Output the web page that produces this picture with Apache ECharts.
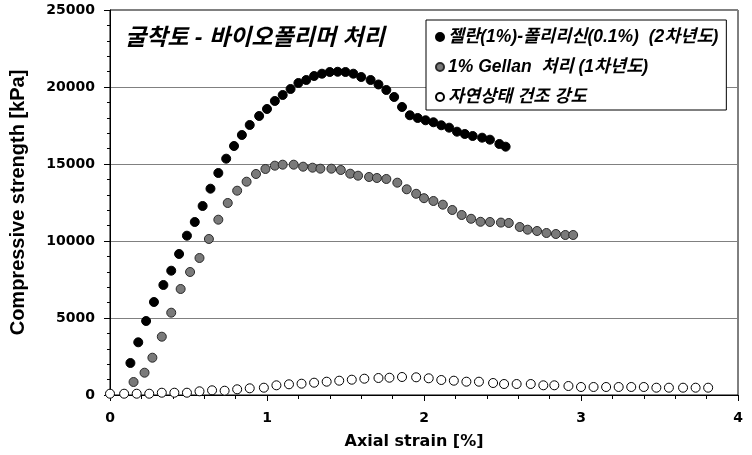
<!DOCTYPE html>
<html>
<head>
<meta charset="utf-8">
<script src="https://cdn.jsdelivr.net/npm/echarts@6/dist/echarts.min.js"></script>
<style>
html,body{margin:0;padding:0;background:#fff;}
#chart{width:752px;height:455px;}
</style>
</head>
<body>
<div id="chart"></div>
<script>
// ---- Data ----
var chartTitle = '굴착토 - 바이오폴리머 처리';
var seriesNames = ['젤란(1%)-폴리리신(0.1%)  (2차년도)', '1% Gellan  처리 (1차년도)', '자연상태 건조 강도'];
var xTicks = [0, 1, 2, 3, 4];
var yTicks = [0, 5000, 10000, 15000, 20000, 25000];

var blackX = [0.13,0.18,0.23,0.28,0.34,0.39,0.44,0.49,0.54,0.59,0.64,0.69,0.74,0.79,0.84,0.89,0.95,1.00,1.05,1.10,1.15,1.20,1.25,1.30,1.35,1.40,1.45,1.50,1.55,1.60,1.66,1.71,1.76,1.81,1.86,1.91,1.96,2.01,2.06,2.11,2.16,2.21,2.26,2.31,2.37,2.42,2.48,2.52];
var blackY = [2078,3422,4805,6039,7143,8072,9157,10345,11234,12273,13397,14416,15345,16169,16884,17534,18118,18573,19092,19481,19871,20260,20455,20714,20864,20974,20990,20974,20864,20649,20455,20164,19806,19352,18703,18164,17989,17839,17710,17515,17359,17099,16949,16819,16709,16579,16300,16125];

var grayX = [0.15,0.22,0.27,0.33,0.39,0.45,0.51,0.57,0.63,0.69,0.75,0.81,0.87,0.93,0.99,1.05,1.10,1.17,1.23,1.29,1.34,1.41,1.47,1.53,1.58,1.65,1.70,1.76,1.83,1.89,1.95,2.00,2.06,2.12,2.18,2.24,2.30,2.36,2.42,2.49,2.54,2.61,2.66,2.72,2.78,2.84,2.90,2.95];
var grayY = [844,1448,2422,3786,5345,6884,7988,8897,10131,11384,12468,13267,13851,14352,14677,14891,14956,14956,14826,14761,14696,14696,14611,14371,14241,14157,14092,14027,13787,13358,13066,12780,12598,12358,12014,11689,11443,11248,11235,11196,11170,10910,10735,10650,10520,10455,10390,10390];

var openX = [0.00,0.09,0.17,0.25,0.33,0.41,0.49,0.57,0.65,0.73,0.81,0.89,0.98,1.06,1.14,1.22,1.30,1.38,1.46,1.54,1.62,1.71,1.78,1.86,1.95,2.03,2.11,2.19,2.27,2.35,2.44,2.51,2.59,2.68,2.76,2.83,2.92,3.00,3.08,3.16,3.24,3.32,3.40,3.48,3.56,3.65,3.73,3.81];
var openY = [84,84,84,84,149,149,149,240,305,279,370,435,474,630,695,734,799,864,929,994,1059,1104,1123,1169,1149,1085,974,929,864,864,779,714,714,714,630,630,584,520,520,520,520,520,520,474,474,474,474,474];

function zip(xs, ys){ return xs.map(function(x,i){ return [x, ys[i]]; }); }

var latinFont = '"Liberation Sans", Arial, "Noto Sans CJK KR", sans-serif';
var tickFont = '"DejaVu Sans", sans-serif';

var chart = echarts.init(document.getElementById('chart'), null, {renderer:'canvas'});
var option = {
  animation: false,
  backgroundColor: '#fff',
  grid: {
    left: 107, right: 14, top: 10, bottom: 60,
    show: true, borderColor: '#000', borderWidth: 1, backgroundColor: 'transparent'
  },
  graphic: [{
    type: 'text', left: 125, top: 27, z: 10,
    style: { text: chartTitle, fill: '#000', font: 'italic bold 23px ' + latinFont }
  }],
  legend: {
    orient: 'vertical', left: 426, top: 20,
    padding: [7, 8, 3, 9], itemGap: 10,
    itemWidth: 8, itemHeight: 8,
    backgroundColor: '#fff', borderColor: '#000', borderWidth: 1, borderRadius: 0,
    icon: 'circle',
    textStyle: { fontSize: 17.5, fontWeight: 'bold', fontStyle: 'italic', fontFamily: latinFont, color: '#000', lineHeight: 20, padding: [0,0,0,-1] },
    data: seriesNames
  },
  xAxis: {
    type: 'value', min: 0, max: 4, interval: 1,
    name: 'Axial strain [%]', nameLocation: 'middle', nameGap: 39,
    nameTextStyle: { fontSize: 16, fontWeight: 'bold', fontFamily: tickFont, color: '#000', padding: [0, 20, 0, 0] },
    axisLine: { show: true, onZero: false, lineStyle: { color: '#000', width: 1 } },
    axisTick: { show: true, inside: false, length: 6, lineStyle: { color: '#000' } },
    minorTick: { show: true, splitNumber: 5, length: 4, lineStyle: { color: '#000' } },
    axisLabel: { margin: 16, fontSize: 14, fontWeight: 'bold', fontFamily: tickFont, color: '#000',
      formatter: function(v){ return xTicks.indexOf(v) >= 0 ? String(v) : ''; } },
    splitLine: { show: false }
  },
  yAxis: {
    type: 'value', min: 0, max: 25000, interval: 5000,
    name: 'Compressive strength [kPa]', nameLocation: 'middle', nameGap: 82,
    nameTextStyle: { fontSize: 20, fontWeight: 'bold', fontFamily: latinFont, color: '#000' },
    axisLine: { show: true, lineStyle: { color: '#000', width: 1 } },
    axisTick: { show: true, inside: false, length: 6, lineStyle: { color: '#000' } },
    minorTick: { show: true, splitNumber: 5, length: 3, lineStyle: { color: '#000' } },
    axisLabel: { margin: 15, fontSize: 14, fontWeight: 'bold', fontFamily: tickFont, color: '#000',
      formatter: function(v){ return yTicks.indexOf(v) >= 0 ? String(v) : ''; } },
    splitLine: { show: true, lineStyle: { color: '#808080', width: 1 } }
  },
  series: [
    { name: seriesNames[0], type: 'scatter', symbol: 'circle', symbolSize: 9, z: 4,
      itemStyle: { color: '#000', borderColor: '#000', borderWidth: 1, opacity: 1 },
      data: zip(blackX, blackY) },
    { name: seriesNames[1], type: 'scatter', symbol: 'circle', symbolSize: 9, z: 3,
      itemStyle: { color: '#7a7a7a', borderColor: '#2a2a2a', borderWidth: 1, opacity: 1 },
      data: zip(grayX, grayY) },
    { name: seriesNames[2], type: 'scatter', symbol: 'circle', symbolSize: 9, z: 2,
      itemStyle: { color: '#fff', borderColor: '#000', borderWidth: 1, opacity: 1 },
      data: zip(openX, openY) }
  ]
};
chart.setOption(option);
</script>
</body>
</html>
